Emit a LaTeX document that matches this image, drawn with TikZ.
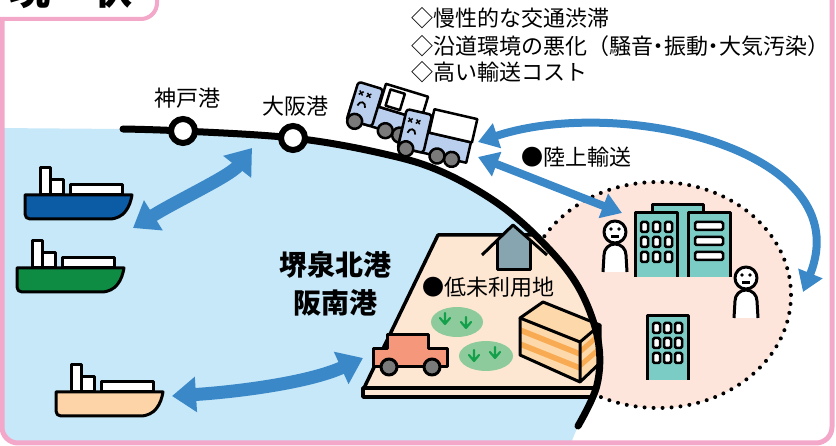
\documentclass[tikz,border=0pt]{standalone}
\usepackage{fontspec}
\newfontfamily\jp{Noto Sans CJK JP}
\newfontfamily\jpp{Noto Sans CJK JP}[RawFeature=+palt]
\usetikzlibrary{arrows.meta}
\definecolor{seablue}{HTML}{C6E8F9}
\definecolor{framepink}{HTML}{F3A7C9}
\definecolor{landc}{HTML}{FDE7D2}
\definecolor{townc}{HTML}{FDE5DC}
\definecolor{arrowblue}{HTML}{3B88C8}
\definecolor{truckblue}{HTML}{BACFEE}
\definecolor{wheelgrey}{HTML}{7A7A7A}
\definecolor{bldteal}{HTML}{7CCCC6}
\definecolor{houseg}{HTML}{87A5B0}
\definecolor{carc}{HTML}{F4977A}
\definecolor{grassc}{HTML}{8DCB9C}
\definecolor{sproutc}{HTML}{14A04A}
\definecolor{crateA}{HTML}{FDD8AA}
\definecolor{crateB}{HTML}{F8AB52}
\definecolor{shipblue}{HTML}{0B5BA5}
\definecolor{shipgreen}{HTML}{0E8C44}
\definecolor{shippeach}{HTML}{FCD4A8}

\tikzset{
  outl/.style={draw=black, line width=3pt, line join=round},
  thin outl/.style={draw=black, line width=2.5pt, line join=round},
  jptext/.style={inner sep=0pt, font=\jp\fontsize{22}{26}\selectfont},
  bigarrow/.style={draw=arrowblue, line width=13pt,
    {Triangle[width=34pt,length=24pt]}-{Triangle[width=34pt,length=24pt]}},
  smallarrow/.style={draw=arrowblue, line width=8pt,
    {Triangle[width=25pt,length=20pt]}-{Triangle[width=25pt,length=20pt]}},
  pics/ship/.style={code={
    \draw[outl, fill=white] (15,-27) rectangle (25,0);
    \draw[outl, fill=white] (25,-15) rectangle (38,0);
    \draw[outl, fill=white] (45,-10) rectangle (97,0);
    \draw[outl, fill=#1] (0,0) -- (107,0) .. controls (105,12) and (99,24) .. (84,24)
      -- (5,24) .. controls (2,24) and (0,22) .. (0,19) -- cycle;
  }},
}

% one tilted lorry, local origin at the lower front corner of the cab
\newcommand\drawlorry{%
  \draw[thin outl, fill=truckblue] (0,-21) rectangle (70,0);
  \draw[thin outl, fill=white] (27,-45) rectangle (71,-21);
  \draw[thin outl, fill=truckblue, rounded corners=3pt] (0,-39) rectangle (26,0);
  \foreach \wx in {8,40,55} {\draw[thin outl, fill=wheelgrey] (\wx,0) circle[radius=7.5];}
  \draw[line width=1.5pt] (4,-31) -- (8,-27) (4,-27) -- (8,-31)
                          (12,-31) -- (16,-27) (12,-27) -- (16,-31);
  \draw[line width=1.8pt] (6,-16) .. controls (7,-22) and (13,-22) .. (14,-16);
}

\begin{document}
\begin{tikzpicture}[x=1pt,y=-1pt]
\useasboundingbox (0,0) rectangle (836,446);

\begin{scope}
\clip[rounded corners=16pt] (2,-30) rectangle (832,443);

% town area
\fill[townc] (658,295) ellipse [x radius=133, y radius=113];
\draw[line width=4pt, dash pattern=on 0pt off 9pt, line cap=round]
  (658,295) ellipse [x radius=133, y radius=113];

% sea
\fill[seablue] (-5,128) -- plot[smooth, tension=0.6] coordinates {(123,129) (183,131) (293,138) (380,153) (440,171) (500,205) (548,248) (580,290) (598,340) (597,385) (578,426)} -- (566,455) -- (-5,455) -- cycle;

% reclaimed land, kept on the sea side of the shore
\begin{scope}
\clip (-5,128) -- plot[smooth, tension=0.6] coordinates {(123,129) (183,131) (293,138) (380,153) (440,171) (500,205) (548,248) (580,290) (598,340) (597,385) (578,426)} -- (566,455) -- (-5,455) -- cycle;
\fill[landc] (438,235) -- (650,235) -- (650,388) -- (364,388) -- cycle;
\draw[outl, line width=3.5pt, fill=landc] (650,388) -- (363,388) -- (363,397) -- (650,397);
\draw[outl, line width=3.5pt] (650,235) -- (438,235) -- (364,388);
\end{scope}

% house
\fill[houseg] (497,270) -- (497,240.5) -- (513,225) -- (530,241) -- (530,270) -- cycle;
\draw[outl] (497,241) -- (497,270) -- (530,270) -- (530,241);
\draw[outl] (482,255) -- (513,225) -- (547,255);

\node[jptext] (lowuse) at (488,287) {●低未利用地};

% grass patches
\fill[grassc] (457,322) ellipse [x radius=26, y radius=15];
\fill[grassc] (486,356) ellipse [x radius=27, y radius=15];
\foreach \sx/\sy in {445/319, 466/323, 474/356, 495/353} {
  \draw[sproutc, line width=2.2pt, line cap=round, line join=round]
    (\sx,\sy-6) -- (\sx,\sy+5) (\sx-5,\sy-1) -- (\sx,\sy+5) -- (\sx+5,\sy-1);
}

% car
\draw[outl, fill=carc] (373,367) -- (373,349) -- (387,349) -- (387,335) -- (428,335)
  -- (428,349) -- (447,349) -- (447,367) -- cycle;
\draw[outl, fill=wheelgrey] (389,367) circle[radius=8];
\draw[outl, fill=wheelgrey] (432,367) circle[radius=8];

% crate
\fill[crateA] (520,318) -- (580,342) -- (580,382) -- (520,355) -- cycle;
\fill[crateA] (580,342) -- (600,325) -- (600,363) -- (580,382) -- cycle;
\begin{scope}
\clip (520,318) -- (580,342) -- (580,382) -- (520,355) -- cycle;
\draw[crateB, line width=5.5pt] (515,328) -- (585,356) (515,342) -- (585,370);
\end{scope}
\begin{scope}
\clip (580,342) -- (600,325) -- (600,363) -- (580,382) -- cycle;
\draw[crateB, line width=5pt] (575,356) -- (605,330) (575,370) -- (605,344);
\end{scope}
\draw[outl, fill=crateA] (520,318) -- (543,302) -- (600,325) -- (580,342) -- cycle;
\draw[outl] (520,318) -- (520,355) -- (580,382) -- (600,363) -- (600,325) (580,342) -- (580,382);

% shore line and ports
\draw[line width=7pt, line cap=round] plot[smooth, tension=0.6] coordinates {(123,129) (183,131) (293,138) (380,153) (440,171) (500,205) (548,248) (580,290) (598,340) (597,385) (578,426)};
\draw[line width=6pt, fill=white] (183,131) circle[radius=12] coordinate (kobe);
\draw[line width=6pt, fill=white] (293,138) circle[radius=12] coordinate (osaka);

% lorries
\begin{scope}[shift={(347,119)}, rotate=-17]
\drawlorry
\draw[thin outl] (33,-41) rectangle (48,-24);
\end{scope}
\begin{scope}[shift={(398,147)}, rotate=-13]
\drawlorry
\end{scope}

% ships
\pic (shipA) at (25,195) {ship=shipblue};
\pic (shipB) at (17,268) {ship=shipgreen};
\pic (shipC) at (56,392) {ship=shippeach};

% sea and land routes
\coordinate (aw) at (133,228);
\coordinate (ae) at (252,148);
\draw[bigarrow] (aw) .. controls (178,200) and (230,176) .. (ae);
\coordinate (bw) at (172,396);
\coordinate (be) at (363,358);
\draw[bigarrow] (bw) .. controls (235,392) and (308,383) .. (be);
\coordinate (cw) at (478,157);
\coordinate (ce) at (622,213);
\draw[smallarrow] (cw) .. controls (525,175) and (575,195) .. (ce);
\coordinate (dw) at (478,142);
\coordinate (de) at (803,292);
\draw[smallarrow] (dw) .. controls (620,95) and (860,150) .. (de);

% office buildings
\fill[bldteal] (652,205) rectangle (703,277);
\draw[outl] (652,277) -- (652,205) -- (703,205) -- (703,277);
\fill[bldteal] (635,213) rectangle (677,277);
\draw[outl] (635,277) -- (635,213) -- (677,213) -- (677,277);
\fill[bldteal] (688,213) rectangle (730,277);
\draw[outl] (688,277) -- (688,213) -- (730,213) -- (730,277);
\foreach \wx in {641,653,665} \foreach \wy in {222,237,252}
  {\draw[line width=2.5pt, fill=white, rounded corners=1.5pt] (\wx,\wy) rectangle ++(7,10);}
\foreach \wy in {222,237,252}
  {\draw[line width=2.5pt, fill=white, rounded corners=1.5pt] (695,\wy) rectangle ++(28,8);}
\fill[bldteal] (647,316) rectangle (688,380);
\draw[outl] (647,380) -- (647,316) -- (688,316) -- (688,380);
\foreach \wx in {653,664,675} \foreach \wy in {323,338,353}
  {\draw[line width=2.5pt, fill=white, rounded corners=1.5pt] (\wx,\wy) rectangle ++(7,10);}

% residents
\draw[outl, fill=white] (603,272) -- (604,255) arc[start angle=180, end angle=360, radius=11] -- (627,272);
\draw[outl, fill=white] (615,232) circle[radius=11];
\fill (611,229) circle[radius=1.8] (619,229) circle[radius=1.8];
\fill (611,235) rectangle (619,238);
\draw[outl, fill=white] (734,318) -- (735,301) arc[start angle=180, end angle=360, radius=11] -- (758,318);
\draw[outl, fill=white] (746,278) circle[radius=11];
\fill (742,275) circle[radius=1.8] (750,275) circle[radius=1.8];
\fill (742,281) rectangle (750,284);

% labels
\node[jptext, anchor=west] (issue1) at (411,18) {◇慢性的な交通渋滞};
\node[jptext, anchor=west] (issue2) at (411,46) {◇沿道環境の悪化（騒音{\jpp ・}振動{\jpp ・}大気汚染）};
\node[jptext, anchor=west] (issue3) at (411,72) {◇高い輸送コスト};
\node[jptext] (kobelbl) at (187,98) {神戸港};
\node[jptext] (osakalbl) at (295,106) {大阪港};
\node[jptext] (road) at (576,157) {●陸上輸送};
\node[inner sep=0pt, align=center, font=\jp\bfseries\fontsize{28}{38}\selectfont] (port) at (335,284) {堺泉北港\\阪南港};
\end{scope}

% frame and heading tab
\draw[framepink, line width=5pt, rounded corners=16pt] (2,-30) rectangle (832,443);
\draw[framepink, line width=4pt, fill=white, rounded corners=16pt] (-30,-60) rectangle (157,19);
\node[inner sep=0pt, font=\jp\bfseries\fontsize{41}{41}\selectfont] (title) at (71,-11) {現　状};
\end{tikzpicture}
\end{document}
